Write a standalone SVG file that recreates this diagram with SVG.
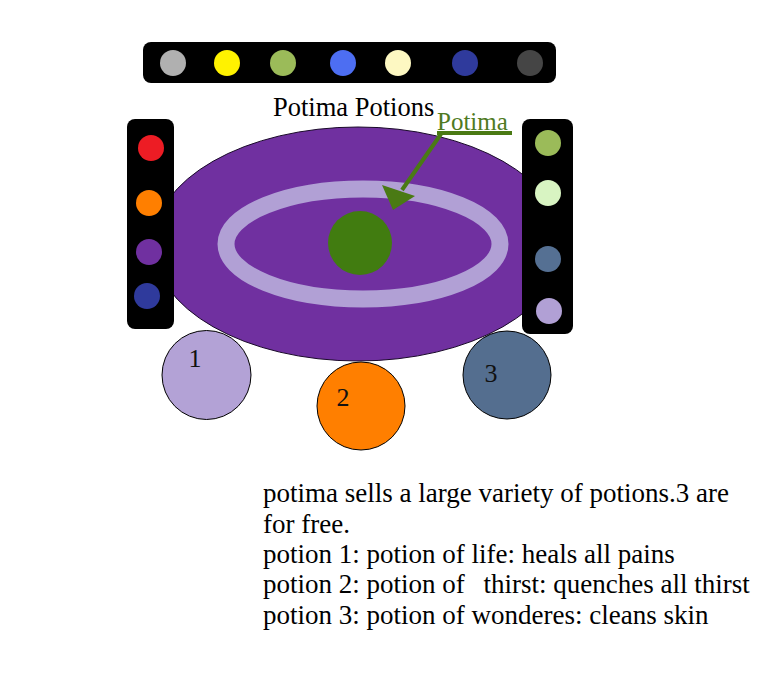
<svg xmlns="http://www.w3.org/2000/svg" width="769" height="684" viewBox="0 0 769 684">
<style>
.bar{fill:#000}
.serif{font-family:'Liberation Serif','Times New Roman',serif;fill:#000}
.lbl{font-family:'Liberation Serif','Times New Roman',serif;font-size:26px;fill:#111}
.pot{stroke:#000;stroke-width:1}
</style>
<rect width="769" height="684" fill="#fff"/>
<g id="top-bar">
<rect class="bar" x="143" y="42" width="413" height="41" rx="8"/>
<circle cx="173" cy="63" r="13" fill="#b0b0b0"/>
<circle cx="227" cy="63" r="13" fill="#fff200"/>
<circle cx="283" cy="63" r="13" fill="#9bbb59"/>
<circle cx="343" cy="63" r="13" fill="#4d6ef2"/>
<circle cx="398" cy="63" r="13" fill="#fdf8c2"/>
<circle cx="465" cy="63" r="13" fill="#2f3a9c"/>
<circle cx="530" cy="63" r="13" fill="#454545"/>
</g>
<g id="table">
<ellipse cx="358" cy="244" rx="205" ry="117" fill="#7030a0" stroke="#1a0a2a" stroke-width="1"/>
<ellipse cx="363" cy="244" rx="137" ry="55" fill="none" stroke="#b1a0d5" stroke-width="17"/>
</g>
<g id="potima">
<circle cx="360" cy="243" r="32" fill="#417c10"/>
</g>
<g id="left-bar">
<rect class="bar" x="127" y="119" width="47" height="210" rx="8"/>
<circle cx="151" cy="148" r="13" fill="#ed1c24"/>
<circle cx="149" cy="203" r="13" fill="#ff7f00"/>
<circle cx="149" cy="252" r="13" fill="#7030a0"/>
<circle cx="147" cy="296" r="13" fill="#2f3a9c"/>
</g>
<g id="right-bar">
<rect class="bar" x="522" y="119" width="51" height="215" rx="8"/>
<circle cx="548" cy="143" r="13" fill="#9bbb59"/>
<circle cx="548" cy="193" r="13" fill="#d8f4c2"/>
<circle cx="548" cy="259" r="13" fill="#557093"/>
<circle cx="549" cy="311" r="13" fill="#b1a0d5"/>
</g>
<g id="potion-1">
<circle class="pot" cx="206.5" cy="375" r="44.5" fill="#b3a2d6"/>
<text class="lbl" x="195" y="367" text-anchor="middle">1</text>
</g>
<g id="potion-2">
<circle class="pot" cx="361" cy="406" r="44" fill="#ff7f00"/>
<text class="lbl" x="343" y="406" text-anchor="middle">2</text>
</g>
<g id="potion-3">
<circle class="pot" cx="507" cy="375" r="44" fill="#546e8f"/>
<text class="lbl" x="491" y="382" text-anchor="middle">3</text>
</g>
<g id="title">
<text class="serif" font-family="Liberation Serif, serif" x="273" y="116" font-size="26.5">Potima Potions</text>
</g>
<g id="connectors">
<line x1="437" y1="133" x2="512" y2="133" stroke="#4a7a14" stroke-width="4"/>
<line x1="441" y1="134" x2="402" y2="190" stroke="#4a7a14" stroke-width="4"/>
<polygon points="382,185 415,196 393,210" fill="#4a7a14"/>
</g>
<g id="potima-label">
<text x="437" y="130" font-family="Liberation Serif, serif" font-size="25" fill="#4f7a22">Potima</text>
</g>
<g id="description">
<text class="serif" font-family="Liberation Serif, serif" font-size="27">
<tspan x="263" y="502">potima sells a large variety of potions.3 are</tspan>
<tspan x="263" y="533">for free.</tspan>
<tspan x="263" y="563">potion 1: potion of life: heals all pains</tspan>
<tspan x="263" y="593">potion 2: potion of <tspan dx="12">thirst: quenches all thirst</tspan></tspan>
<tspan x="263" y="624">potion 3: potion of wonderes: cleans skin</tspan>
</text>
</g>
</svg>
